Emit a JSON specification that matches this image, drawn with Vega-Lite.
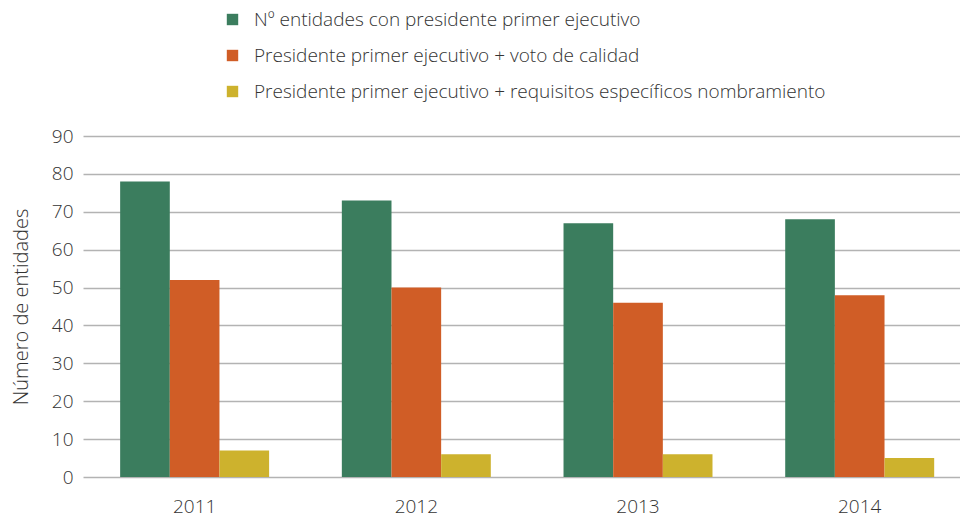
{
  "$schema": "https://vega.github.io/schema/vega-lite/v6.json",
  "width": 877,
  "height": 341,
  "autosize": {"type": "none"},
  "padding": {"left": 83, "top": 136, "right": 0, "bottom": 41},
  "background": "white",
  "config": {
    "view": {"stroke": null},
    "font": "Open Sans",
    "text": {"color": "#333333"}
  },
  "data": {
    "values": [
      {"year": "2011", "serie": "Nº entidades con presidente primer ejecutivo", "value": 78},
      {"year": "2011", "serie": "Presidente primer ejecutivo + voto de calidad", "value": 52},
      {"year": "2011", "serie": "Presidente primer ejecutivo + requisitos específicos nombramiento", "value": 7},
      {"year": "2012", "serie": "Nº entidades con presidente primer ejecutivo", "value": 73},
      {"year": "2012", "serie": "Presidente primer ejecutivo + voto de calidad", "value": 50},
      {"year": "2012", "serie": "Presidente primer ejecutivo + requisitos específicos nombramiento", "value": 6},
      {"year": "2013", "serie": "Nº entidades con presidente primer ejecutivo", "value": 67},
      {"year": "2013", "serie": "Presidente primer ejecutivo + voto de calidad", "value": 46},
      {"year": "2013", "serie": "Presidente primer ejecutivo + requisitos específicos nombramiento", "value": 6},
      {"year": "2014", "serie": "Nº entidades con presidente primer ejecutivo", "value": 68},
      {"year": "2014", "serie": "Presidente primer ejecutivo + voto de calidad", "value": 48},
      {"year": "2014", "serie": "Presidente primer ejecutivo + requisitos específicos nombramiento", "value": 5}
    ]
  },
  "mark": {"type": "bar"},
  "encoding": {
    "x": {
      "field": "year", "type": "nominal", "title": null,
      "scale": {"paddingInner": 0.328, "paddingOuter": 0.142, "align": 0.59},
      "axis": {"labelAngle": 0, "labelFontSize": 19, "labelFontWeight": 300, "labelColor": "#333333", "ticks": false, "domain": false, "labelPadding": 20, "labelFont": "Open Sans"}
    },
    "xOffset": {
      "field": "serie", "type": "nominal",
      "sort": ["Nº entidades con presidente primer ejecutivo", "Presidente primer ejecutivo + voto de calidad", "Presidente primer ejecutivo + requisitos específicos nombramiento"],
      "scale": {"paddingInner": 0, "paddingOuter": 0}
    },
    "y": {
      "field": "value", "type": "quantitative", "title": "Número de entidades",
      "scale": {"domain": [0, 90], "nice": false},
      "axis": {"values": [0,10,20,30,40,50,60,70,80,90], "ticks": false, "domain": false, "grid": true, "gridColor": "#b3b3b3", "gridWidth": 1.5, "labelFontSize": 19, "labelFontWeight": 300, "labelColor": "#333333", "labelPadding": 10, "titleFontSize": 20, "titleFontWeight": 300, "titleColor": "#333333", "titlePadding": 20, "titleFont": "Open Sans", "labelFont": "Open Sans"}
    },
    "color": {
      "field": "serie", "type": "nominal",
      "sort": ["Nº entidades con presidente primer ejecutivo", "Presidente primer ejecutivo + voto de calidad", "Presidente primer ejecutivo + requisitos específicos nombramiento"],
      "scale": {"range": ["#3b7d5e", "#d05d26", "#cdb22d"]},
      "legend": {"title": null, "orient": "none", "legendX": 140, "legendY": -126, "symbolType": "square", "symbolSize": 130, "symbolStrokeWidth": 0, "labelFontSize": 19, "labelFontWeight": 300, "labelColor": "#333333", "labelFont": "Open Sans", "rowPadding": 16, "labelOffset": 12, "labelLimit": 700}
    }
  }
}
